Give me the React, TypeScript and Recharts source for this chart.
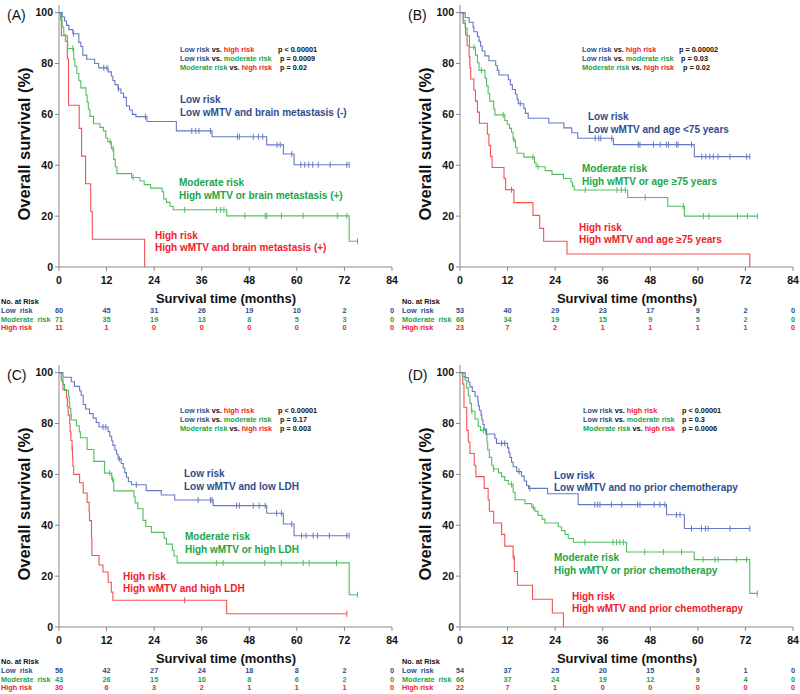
import { LineChart, Line, XAxis, YAxis } from "recharts"

const FONT = "'Liberation Sans', Arial, Helvetica, sans-serif"
const BLUE = "#6479c4"
const BLUE_TXT = "#2f4d8c"
const GREEN = "#55bd60"
const GREEN_TXT = "#21a548"
const RED = "#f55252"
const RED_TXT = "#f0202a"
const AXIS = "#8a8a8a"

const months = [0, 12, 24, 36, 48, 60, 72, 84]
const survTicks = [0, 20, 40, 60, 80, 100]

type Step = [number, number]

// (A) wMTV + brain metastasis
const aLowSteps: Step[] = [[0.8, 98.3], [1.4, 96.7], [1.9, 95], [2.5, 93.3], [3.5, 91.7], [5, 88.3], [5.5, 86.7], [6, 83.3], [7, 81.7], [9, 80], [10, 78.3], [12.4, 76.7], [13.2, 75], [13.6, 73.3], [14.1, 71.7], [14.9, 70], [15.6, 68.3], [16.3, 66.7], [17, 63.3], [17.8, 61.7], [18.5, 60], [19.4, 59.1], [22.2, 57.2], [29.6, 53.5], [38.6, 51.2], [52.4, 48], [56.6, 44.4], [59.3, 40.2]]
const aLowCens = [3.7, 11.3, 12.1, 15, 21.8, 33.5, 34.5, 35.3, 38.2, 45, 45.5, 49, 50.3, 51.4, 55, 55.8, 58.7, 61, 62, 63, 64, 65.4, 68.4, 72.6, 73.2]
const aModSteps: Step[] = [[0.4, 97.2], [0.8, 94.4], [1.2, 91.5], [1.6, 88.7], [2.2, 85.9], [3.7, 81.7], [4, 78.9], [4.5, 76.1], [5, 73.2], [5.5, 70.4], [6.8, 67.6], [7.1, 64.8], [7.4, 62], [7.8, 59.2], [8.7, 56.3], [10.3, 54.9], [11.2, 53.5], [11.8, 50.7], [12.3, 49.3], [13.2, 46.5], [13.8, 42.3], [14.2, 39.4], [14.6, 36.7], [18.3, 35.2], [20.4, 33.8], [21.5, 32.4], [23.1, 31], [26, 29.6], [26.4, 26.8], [27.1, 25.4], [28, 23.9], [28.8, 22.5], [42.3, 20.1], [73.2, 10.1]]
const aModCens = [3.5, 12.9, 13.6, 18.7, 31.7, 39.7, 40.8, 41.6, 46.9, 52, 52.4, 56.1, 61.6, 70.2, 72.6, 75.3]
const aHighSteps: Step[] = [[0.6, 90.9], [2.1, 81.8], [2.4, 63.6], [5.1, 54.5], [5.7, 43.6], [6.7, 32.7], [8, 21.8], [8.4, 10.9], [21.6, 0]]
const aHighCens: number[] = []
const aRiskLow = [60, 45, 31, 26, 19, 10, 2, 0]
const aRiskMod = [71, 35, 19, 13, 8, 5, 3, 0]
const aRiskHigh = [11, 1, 0, 0, 0, 0, 0, 0]

// (B) wMTV + age
const bLowSteps: Step[] = [[1.3, 98.1], [2.3, 96.2], [3.3, 94.3], [3.5, 92.5], [4.4, 90.6], [4.8, 88.7], [5.2, 86.8], [5.6, 84.9], [6.3, 83], [7.3, 81.1], [9, 79.2], [9.4, 77.4], [9.8, 75.5], [12.2, 73.6], [12.7, 71.7], [13.2, 69.8], [14, 67.9], [14.4, 66], [14.7, 64.2], [16.1, 62.3], [16.5, 60.4], [17.2, 58.5], [22.4, 56.6], [26.2, 54.7], [28.2, 52.8], [29.7, 50.6], [38.7, 48.1], [59.1, 43.4]]
const bLowCens = [15.2, 34.1, 35, 35.5, 38.3, 45, 45.4, 48.8, 50.5, 52.1, 52.6, 54.6, 55, 58.4, 61, 62, 63, 63.9, 65.1, 68.1, 72.3, 73.1]
const bModSteps: Step[] = [[0.8, 97], [1.3, 93.9], [1.8, 90.9], [2.4, 86.4], [3.9, 83.3], [4.4, 80.3], [4.8, 77.3], [6.3, 74.2], [6.7, 71.2], [7.1, 68.2], [7.5, 65.2], [8.5, 62.1], [8.8, 59.8], [11.3, 57.6], [11.9, 56.1], [12.5, 54.5], [13, 53], [13.4, 50], [14, 47], [14.4, 44.7], [16.1, 43.2], [18.8, 41], [19.2, 39.4], [21.5, 37.9], [23.2, 36.4], [26.1, 34.8], [28, 33.3], [28.4, 31.8], [28.8, 30.3], [42.3, 27.3], [52.4, 23.9], [56.6, 20]]
const bModCens = [3.5, 5.4, 10.9, 13.6, 18.4, 19.7, 31.6, 39.6, 40.7, 41.7, 46.7, 56.3, 61.4, 62.8, 70, 72.5, 75]
const bHighSteps: Step[] = [[0.8, 95.7], [1.4, 91.3], [1.8, 87], [2.3, 82.6], [2.5, 78.3], [2.7, 73.9], [3.5, 69.6], [3.9, 65.2], [4.4, 60.9], [4.9, 56.5], [6.9, 52.2], [7.3, 47.8], [7.7, 43.5], [8.1, 39.1], [11.1, 34.8], [11.5, 30.4], [13.6, 25.3], [18.4, 20.3], [20.1, 15.2], [21.1, 10.1], [27, 5.1], [73.1, 0]]
const bHighCens = [13]
const bRiskLow = [53, 40, 29, 23, 17, 9, 2, 0]
const bRiskMod = [66, 34, 19, 15, 9, 5, 2, 0]
const bRiskHigh = [23, 7, 2, 1, 1, 1, 1, 0]

// (C) wMTV + LDH
const cLowSteps: Step[] = [[1, 98.2], [3.1, 96.4], [3.9, 94.6], [5.2, 92.9], [5.6, 91.1], [6.1, 87.5], [6.7, 85.7], [7.7, 83.9], [8.6, 82.1], [9.4, 80.4], [10.1, 78.6], [12.4, 76.8], [12.8, 75], [13.3, 73.2], [13.6, 71.4], [14.1, 69.6], [14.5, 67.9], [14.9, 66.1], [15.7, 64.3], [16.2, 62.5], [16.6, 60.7], [17, 58.9], [17.5, 57.1], [18.3, 55.9], [22, 53.6], [25.8, 51.9], [29.2, 49.9], [38.9, 47.7], [52.4, 44.7], [56.6, 40.5], [59.3, 35.9]]
const cLowCens = [11.1, 11.8, 15.2, 19.5, 35.1, 38.2, 38.6, 44.8, 45.5, 49, 50.5, 52, 54.9, 56.1, 58.7, 61.2, 62.3, 64.1, 65.2, 68.2, 72.6, 73.2]
const cModSteps: Step[] = [[0.6, 97.7], [1, 95.3], [1.4, 93], [2.4, 90.7], [2.6, 88.4], [2.7, 86], [3, 83.7], [3.1, 81.4], [4.4, 79.1], [5.1, 76.7], [5.4, 74.4], [7.1, 69.8], [8.8, 65.1], [11.5, 60.5], [13.3, 58.1], [13.8, 53.5], [18.9, 51.2], [19.2, 48.8], [19.9, 46.5], [21.2, 41.9], [21.9, 39.5], [23.3, 37.2], [26.5, 34.9], [27.1, 32.6], [28.6, 30.2], [29, 27.9], [29.8, 25.2], [73.2, 12.7]]
const cModCens = [12.8, 13.5, 39.7, 41.4, 51.9, 56.1, 61.6, 63.1, 70, 75.3]
const cHighSteps: Step[] = [[0.6, 96.7], [1, 93.3], [1.9, 90], [2.1, 86.7], [2.3, 83.3], [2.7, 80], [2.8, 76.7], [3, 73.3], [3.3, 70], [3.4, 66.7], [3.5, 63.3], [3.7, 60], [5.2, 56.7], [6.1, 52.7], [7.1, 49], [7.6, 45.5], [7.7, 41.8], [8.2, 35], [8.3, 28.1], [10.1, 24.4], [11.1, 21.6], [12.4, 17.6], [13.2, 13.7], [13.6, 10.5], [42.3, 5.2]]
const cHighCens = [3.35, 31.7, 72.6]
const cRiskLow = [56, 42, 27, 24, 18, 8, 2, 0]
const cRiskMod = [43, 26, 15, 10, 8, 6, 2, 0]
const cRiskHigh = [30, 6, 3, 2, 1, 1, 1, 0]

// (D) wMTV + prior chemotherapy
const dLowSteps: Step[] = [[1.3, 98.1], [2.1, 96.3], [2.5, 94.4], [3.1, 92.6], [3.8, 90.7], [4.5, 88.9], [4.6, 87], [4.9, 85.2], [5.3, 83.3], [5.5, 81.5], [5.8, 79.6], [6.1, 77.8], [6.7, 75.9], [8.8, 74.1], [9.2, 72.2], [12, 70.4], [12.3, 68.5], [12.6, 66.7], [13, 64.8], [13.4, 63], [14.3, 61.1], [15.5, 59.3], [16.2, 57.4], [16.8, 55.6], [17.3, 54.5], [22.1, 52.4], [29.8, 48.1], [52.1, 44.1], [56.6, 38.7]]
const dLowCens = [10.5, 11.3, 14.9, 17.6, 34, 34.7, 35.3, 38.2, 40.8, 44.8, 45.4, 49, 50.4, 51.7, 54.6, 55.5, 58.4, 60.9, 61.9, 62.6, 68.1, 73.1]
const dModSteps: Step[] = [[0.7, 98.5], [1.3, 97], [1.7, 93.9], [2.1, 90.9], [2.5, 87.9], [2.9, 84.8], [3.8, 81.8], [4.6, 78.8], [5.2, 77.3], [6.5, 75.8], [6.8, 72.7], [7, 69.7], [7.4, 66.7], [8, 63.6], [8.4, 62.1], [9.7, 60.6], [10.5, 59.1], [11.3, 57.6], [12.2, 56.1], [13.4, 53], [13.9, 50], [16.4, 48.5], [18.1, 47], [18.9, 45.5], [19.7, 43.9], [20.7, 42.4], [21.4, 40.9], [24.8, 39.4], [25.6, 37.9], [26.5, 36.4], [27.3, 34.8], [28.6, 33.3], [42, 29.5], [59.1, 26.5], [73.1, 13.2]]
const dModCens = [3, 5.9, 8.5, 13, 18.5, 31.5, 38.6, 39.5, 40.3, 41.2, 46.6, 51.3, 55.9, 61.3, 64.3, 65.1, 69.7, 72.3, 75]
const dHighSteps: Step[] = [[0.7, 95.5], [1, 86.4], [1.7, 77.3], [2.1, 72.7], [2.5, 68.2], [3.6, 63.6], [4, 59.1], [6.1, 54.5], [7.1, 50], [7.4, 45.5], [8.5, 40.9], [10.5, 36.4], [11.3, 31.8], [13.4, 27.3], [13.7, 21.8], [14.5, 16.4], [18.3, 10.9], [23.3, 5.5], [26.1, 0]]
const dHighCens = [13.6]
const dRiskLow = [54, 37, 25, 20, 15, 6, 1, 0]
const dRiskMod = [66, 37, 24, 19, 12, 9, 4, 0]
const dRiskHigh = [22, 7, 1, 0, 0, 0, 0, 0]

type KMPoint = { t: number; s: number; c: boolean }

function km(steps: Step[], cens: number[]): KMPoint[] {
  const pts: KMPoint[] = [{ t: 0, s: 100, c: false }]
  steps.forEach(([t, s]) => pts.push({ t, s, c: false }))
  cens.forEach((t) => {
    let s = 100
    steps.forEach(([st, sv]) => {
      if (st <= t) s = sv
    })
    pts.push({ t, s, c: true })
  })
  pts.sort((a, b) => a.t - b.t)
  return pts
}

function censorDot(color: string) {
  return (p: any) => {
    const k = `${p.index}-${p.cx}`
    if (!p.payload || !p.payload.c) return <g key={k} />
    return <line key={k} x1={p.cx} x2={p.cx} y1={p.cy - 3} y2={p.cy + 3} stroke={color} strokeWidth={1} />
  }
}

type PanelProps = {
  tag: string
  left: number
  top: number
  height: number
  low: KMPoint[]
  mod: KMPoint[]
  high: KMPoint[]
  riskLow: number[]
  riskMod: number[]
  riskHigh: number[]
  pValues: string[]
  pX: number
  pY: number
  pCol: number[]
  lowText: string
  modText: string
  highText: string
  lowPos: [number, number]
  modPos: [number, number]
  highPos: [number, number]
}

function Panel(props: PanelProps) {
  const { tag, left, top, height, riskLow, riskMod, riskHigh } = props
  const bottomH = height - 5 - 262
  const plotBottom = 267

  const riskTick = (p: any) => {
    const i = months.indexOf(p.payload.value)
    const y = p.y
    return (
      <g key={`t-${p.payload.value}`} fontFamily={FONT} fontWeight={700} textAnchor="middle">
        <text x={p.x} y={y + 11} fontSize={10.5} fill="#111">{p.payload.value}</text>
        <text x={p.x} y={y + 40} fontSize={7.3} fill={BLUE_TXT}>{riskLow[i]}</text>
        <text x={p.x} y={y + 48.5} fontSize={7.3} fill={GREEN_TXT}>{riskMod[i]}</text>
        <text x={p.x} y={y + 57} fontSize={7.3} fill={RED_TXT}>{riskHigh[i]}</text>
      </g>
    )
  }

  const pRows = [
    [["Low risk", BLUE_TXT], [" vs. ", "#111"], ["high risk", RED_TXT]],
    [["Low risk", BLUE_TXT], [" vs. ", "#111"], ["moderate risk", GREEN_TXT]],
    [["Moderate risk", GREEN_TXT], [" vs. ", "#111"], ["high risk", RED_TXT]],
  ]

  return (
    <div style={{ position: "absolute", left, top, width: 400, height }}>
      <LineChart width={400} height={height} margin={{ top: 5, right: 8, bottom: 0, left: 9 }}>
        <XAxis
          dataKey="t"
          type="number"
          domain={[0, 84]}
          ticks={months}
          allowDataOverflow
          height={bottomH}
          stroke={AXIS}
          tickSize={4}
          tickMargin={2}
          tick={riskTick}
        />
        <YAxis
          type="number"
          domain={[0, 103]}
          ticks={survTicks}
          width={50}
          stroke={AXIS}
          tickSize={4}
          tickMargin={2}
          tick={{ fontSize: 10.5, fontWeight: 700, fill: "#111", fontFamily: FONT }}
        />
        <Line data={props.high} dataKey="s" type="stepAfter" stroke={RED} strokeWidth={1.1} dot={censorDot(RED)} activeDot={false} isAnimationActive={false} />
        <Line data={props.mod} dataKey="s" type="stepAfter" stroke={GREEN} strokeWidth={1.1} dot={censorDot(GREEN)} activeDot={false} isAnimationActive={false} />
        <Line data={props.low} dataKey="s" type="stepAfter" stroke={BLUE} strokeWidth={1.1} dot={censorDot(BLUE)} activeDot={false} isAnimationActive={false} />
      </LineChart>
      <svg
        width={400}
        height={height}
        style={{ position: "absolute", left: 0, top: 0, pointerEvents: "none" }}
        fontFamily={FONT}
      >
        <text x={7} y={20} fontSize={14} fill="#111">{tag}</text>
        <text transform="translate(30,144) rotate(-90)" textAnchor="middle" fontSize={16.5} fontWeight={700} fill="#111">
          Overall survival (%)
        </text>
        <text x={226} y={plotBottom + 36} textAnchor="middle" fontSize={13} fontWeight={700} fill="#111">
          Survival time (months)
        </text>
        <g fontSize={7.3} fontWeight={700}>
          <text x={1} y={plotBottom + 37} fill="#111">No. at Risk</text>
          <text x={1} y={plotBottom + 46} fill={BLUE_TXT} style={{ whiteSpace: "pre" }}>{"Low  risk"}</text>
          <text x={1} y={plotBottom + 54.5} fill={GREEN_TXT} style={{ whiteSpace: "pre" }}>{"Moderate  risk"}</text>
          <text x={1} y={plotBottom + 63} fill={RED_TXT}>High risk</text>
          {pRows.map((row, r) => (
            <g key={r}>
              <text x={props.pX} y={props.pY + r * 9}>
                {row.map(([s, c], j) => (
                  <tspan key={j} fill={c} style={{ whiteSpace: "pre" }}>{s}</tspan>
                ))}
              </text>
              <text x={props.pCol[r]} y={props.pY + r * 9} fill="#111">{props.pValues[r]}</text>
            </g>
          ))}
        </g>
        <g fontSize={10} fontWeight={700}>
          <text x={props.lowPos[0]} y={props.lowPos[1]} fill={BLUE_TXT}>Low risk</text>
          <text x={props.lowPos[0]} y={props.lowPos[1] + 12.5} fill={BLUE_TXT}>{props.lowText}</text>
          <text x={props.modPos[0]} y={props.modPos[1]} fill={GREEN_TXT}>Moderate risk</text>
          <text x={props.modPos[0]} y={props.modPos[1] + 12.5} fill={GREEN_TXT}>{props.modText}</text>
          <text x={props.highPos[0]} y={props.highPos[1]} fill={RED_TXT}>High risk</text>
          <text x={props.highPos[0]} y={props.highPos[1] + 12} fill={RED_TXT}>{props.highText}</text>
        </g>
      </svg>
    </div>
  )
}

export default function App() {
  return (
    <div style={{ position: "absolute", left: 0, top: 0, width: 800, height: 694, background: "#fff", overflow: "hidden" }}>
      <Panel
        tag="(A)"
        left={0}
        top={0}
        height={340}
        low={km(aLowSteps, aLowCens)}
        mod={km(aModSteps, aModCens)}
        high={km(aHighSteps, aHighCens)}
        riskLow={aRiskLow}
        riskMod={aRiskMod}
        riskHigh={aRiskHigh}
        pValues={["p < 0.00001", "p = 0.0009", "p = 0.02"]}
        pX={180}
        pY={51.5}
        pCol={[278, 280, 280]}
        lowText="Low wMTV and brain metastasis (-)"
        modText="High wMTV or brain metastasis (+)"
        highText="High wMTV and brain metastasis (+)"
        lowPos={[180, 103]}
        modPos={[179, 186]}
        highPos={[155, 239]}
      />
      <Panel
        tag="(B)"
        left={401}
        top={0}
        height={340}
        low={km(bLowSteps, bLowCens)}
        mod={km(bModSteps, bModCens)}
        high={km(bHighSteps, bHighCens)}
        riskLow={bRiskLow}
        riskMod={bRiskMod}
        riskHigh={bRiskHigh}
        pValues={["p = 0.00002", "p = 0.03", "p = 0.02"]}
        pX={181}
        pY={51.5}
        pCol={[278, 280, 282]}
        lowText="Low wMTV and age <75 years"
        modText="High wMTV or age ≥75 years"
        highText="High wMTV and age ≥75 years"
        lowPos={[187, 120]}
        modPos={[181, 172]}
        highPos={[178, 231]}
      />
      <Panel
        tag="(C)"
        left={0}
        top={360}
        height={334}
        low={km(cLowSteps, cLowCens)}
        mod={km(cModSteps, cModCens)}
        high={km(cHighSteps, cHighCens)}
        riskLow={cRiskLow}
        riskMod={cRiskMod}
        riskHigh={cRiskHigh}
        pValues={["p < 0.00001", "p = 0.17", "p = 0.003"]}
        pX={180}
        pY={53}
        pCol={[278, 280, 280]}
        lowText="Low wMTV and low LDH"
        modText="High wMTV or high LDH"
        highText="High wMTV and high LDH"
        lowPos={[184, 117]}
        modPos={[185, 180]}
        highPos={[123, 220]}
      />
      <Panel
        tag="(D)"
        left={401}
        top={360}
        height={334}
        low={km(dLowSteps, dLowCens)}
        mod={km(dModSteps, dModCens)}
        high={km(dHighSteps, dHighCens)}
        riskLow={dRiskLow}
        riskMod={dRiskMod}
        riskHigh={dRiskHigh}
        pValues={["p < 0.00001", "p = 0.3", "p = 0.0006"]}
        pX={182}
        pY={53}
        pCol={[281, 281, 281]}
        lowText="Low wMTV and no prior chemotherapy"
        modText="High wMTV or prior chemotherapy"
        highText="High wMTV and prior chemotherapy"
        lowPos={[153, 118.5]}
        modPos={[153, 201]}
        highPos={[171, 239.5]}
      />
    </div>
  )
}
